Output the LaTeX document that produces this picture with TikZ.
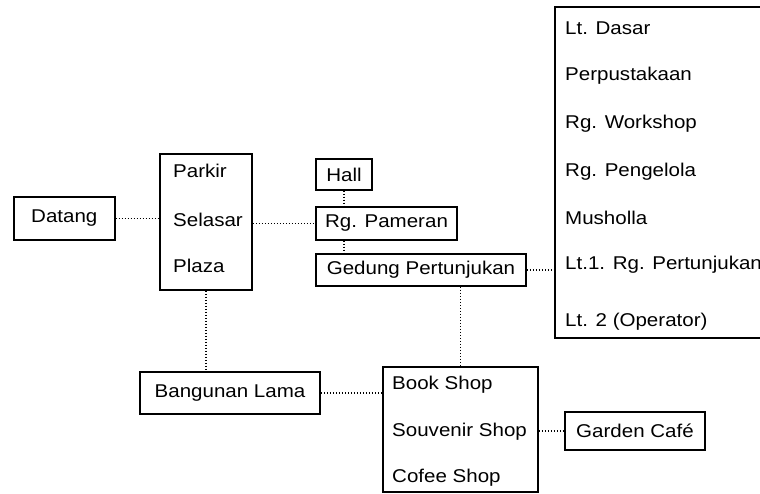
\documentclass[tikz,border=0pt]{standalone}
\usepackage{fontspec}
\setmainfont{Liberation Sans}[FakeStretch=1.11]
\begin{document}
\begin{tikzpicture}[x=1pt, y=1pt,
            kotak/.style={draw=black, line width=1.5pt, inner sep=0pt},
            isi/.style={anchor=west, inner sep=0pt, text height=13pt, text depth=4pt},
            jalur/.style={black, line width=1.5pt, dash pattern=on 1.2pt off 1.8pt},
            every node/.style={font=\fontsize{18.5}{20}\selectfont}]
            \useasboundingbox (0,0) rectangle (760,-494);

            \node[kotak, minimum width=101pt, minimum height=43pt] (datang) at (64.3,-218.5) {Datang};

            \node[kotak, minimum width=92pt, minimum height=136pt] (kawasan) at (206,-222) {};
            \node[isi] (parkir) at (173,-173) {Parkir};
            \node[isi] (selasar) at (173,-222) {Selasar};
            \node[isi] (plaza) at (173,-268) {Plaza};

            \node[kotak, minimum width=56pt, minimum height=31pt] (hall) at (344,-174.5) {Hall};
            \node[kotak, minimum width=141pt, minimum height=33pt] (pameran) at (386.5,-223.5) {Rg. Pameran};
            \node[kotak, minimum width=210pt, minimum height=32pt] (gedung) at (421,-270) {Gedung Pertunjukan};

            \node[kotak, minimum width=220pt, minimum height=331pt] (lantai) at (665,-172.5) {};
            \node[isi] (dasar) at (565,-30) {Lt. Dasar};
            \node[isi] (pustaka) at (565,-76) {Perpustakaan};
            \node[isi] (workshop) at (565,-124) {Rg. Workshop};
            \node[isi] (pengelola) at (565,-172) {Rg. Pengelola};
            \node[isi] (musholla) at (565,-220) {Musholla};
            \node[isi] (lantaisatu) at (565,-265) {Lt.1. Rg. Pertunjukan};
            \node[isi] (operator) at (565,-322) {Lt. 2 (Operator)};

            \node[kotak, minimum width=180pt, minimum height=42pt] (bangunan) at (230,-393) {Bangunan Lama};

            \node[kotak, minimum width=155pt, minimum height=125pt] (toko) at (460.5,-429.5) {};
            \node[isi] (buku) at (392,-385) {Book Shop};
            \node[isi] (souvenir) at (392,-432) {Souvenir Shop};
            \node[isi] (kopi) at (392,-478) {Cofee Shop};

            \node[kotak, minimum width=140pt, minimum height=38pt] (garden) at (635,-431) {Garden Caf\'e};

            \draw[jalur] (datang.east) -- (datang.east -| kawasan.west);
            \draw[jalur] (pameran.west -| kawasan.east) -- (pameran.west);
            \draw[jalur] (hall.south) -- (hall.south |- pameran.north);
            \draw[jalur] (hall.south |- pameran.south) -- (hall.south |- gedung.north);
            \draw[jalur] (gedung.east) -- (gedung.east -| lantai.west);
            \draw[jalur] (toko.north |- gedung.south) -- (toko.north);
            \draw[jalur] (kawasan.south) -- (kawasan.south |- bangunan.north);
            \draw[jalur] (bangunan.east) -- (bangunan.east -| toko.west);
            \draw[jalur] (garden.west -| toko.east) -- (garden.west);
        \end{tikzpicture}
\end{document}
